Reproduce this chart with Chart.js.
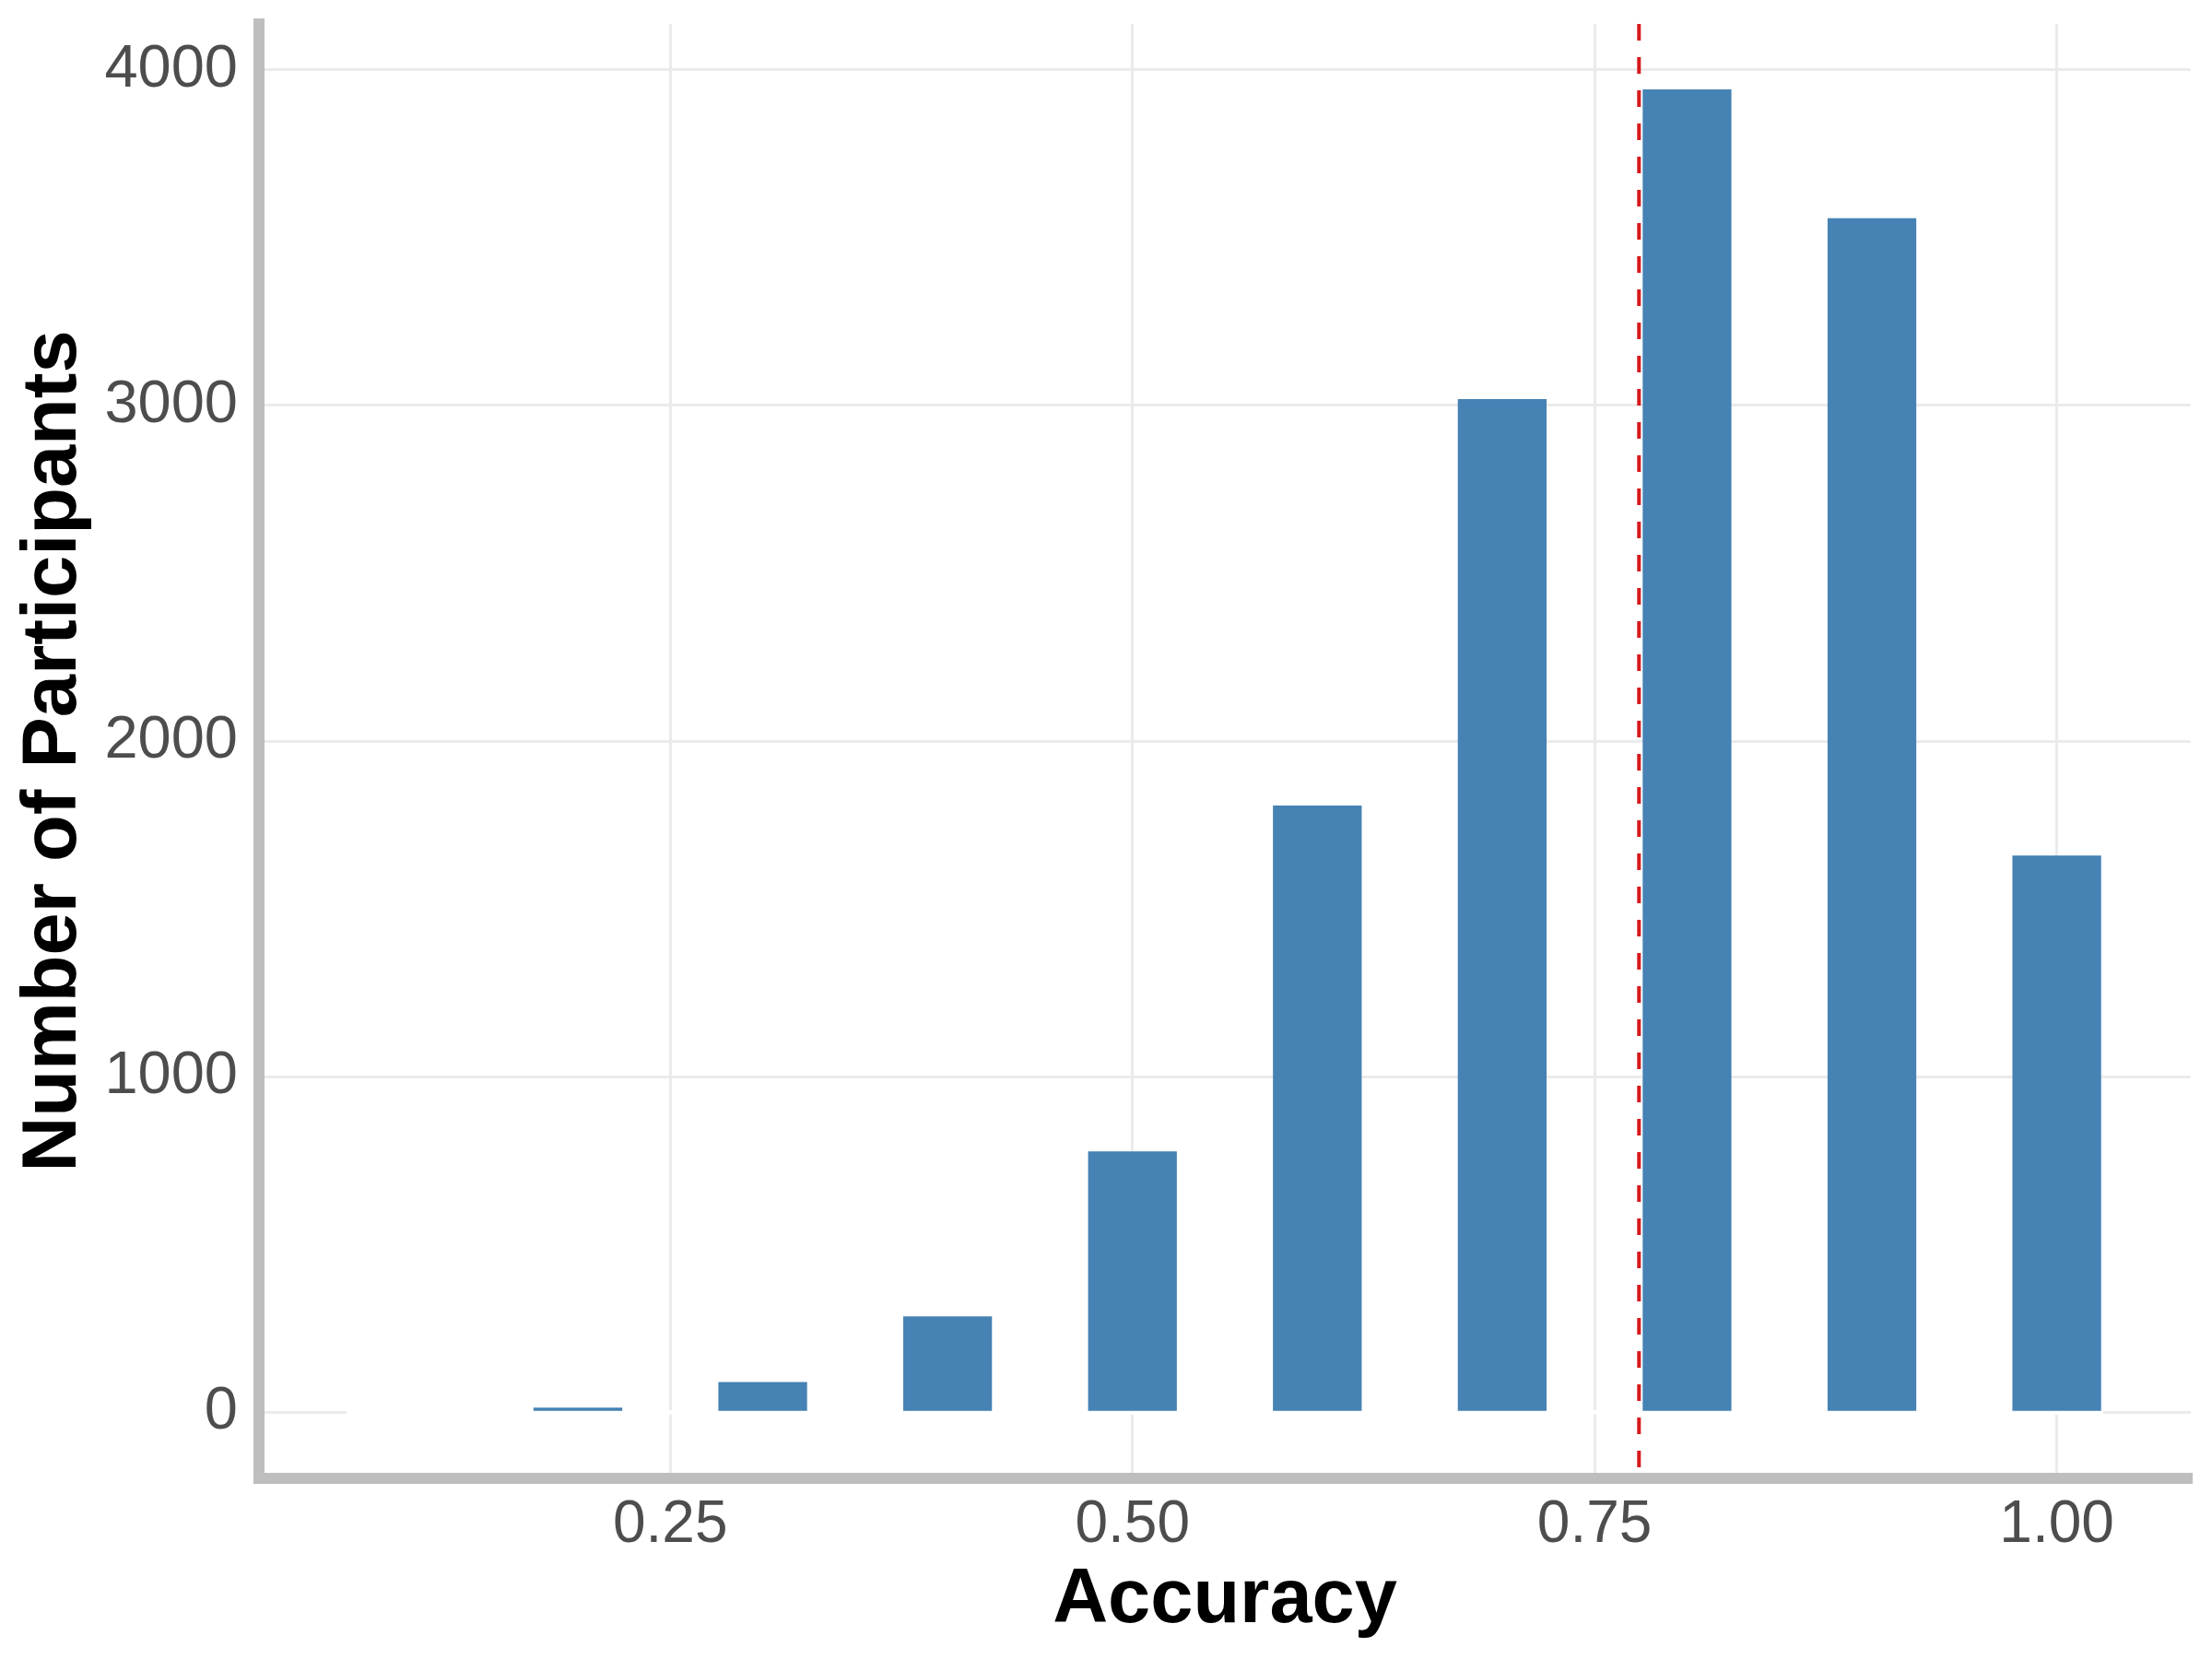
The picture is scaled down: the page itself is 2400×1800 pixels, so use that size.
<!DOCTYPE html>
<html>
<head>
<meta charset="utf-8">
<title>Accuracy histogram</title>
<script src="https://cdn.jsdelivr.net/npm/chart.js@4.4.1/dist/chart.umd.min.js"></script>
<style>
  html, body { margin: 0; padding: 0; background: #ffffff; }
  #chart { display: block; }
</style>
</head>
<body>
<canvas id="chart" width="2400" height="1800"></canvas>
<script>
// histogram bins (centre of each bin) and counts
const binCenters = [0.1, 0.2, 0.3, 0.4, 0.5, 0.6, 0.7, 0.8, 0.9, 1.0];
const participantCounts = [0, 14, 90, 286, 777, 1808, 3019, 3942, 3558, 1659];
const binWidth = 0.05;
const meanAccuracy = 0.774;

const xTicks = [0.25, 0.5, 0.75, 1.0];
const yTicks = [0, 1000, 2000, 3000, 4000];
const xLimits = [0.0275, 1.0725];
const yLimits = [-197, 4137];

const FONT = "'Liberation Sans', Arial, Helvetica, sans-serif";

const bars = binCenters.map((x, i) => ({ x, y: participantCounts[i] }));

// empty-bin outlines along y = 0 (white, like the ggplot histogram)
const baseline = [
  { x: binCenters[0] - binWidth / 2, y: 0 },
  { x: binCenters[binCenters.length - 1] + binWidth / 2, y: 0 }
];

const meanLine = [
  { x: meanAccuracy, y: yLimits[1] },
  { x: meanAccuracy, y: yLimits[0] }
];

const ctx = document.getElementById('chart');

new Chart(ctx, {
  type: 'bar',
  data: {
    datasets: [
      {
        type: 'line',
        data: baseline,
        borderColor: '#ffffff',
        borderWidth: 5,
        pointRadius: 0,
        tension: 0,
        order: 3
      },
      {
        type: 'bar',
        data: bars,
        backgroundColor: '#4682b4',
        borderWidth: 0,
        barPercentage: 0.48,
        categoryPercentage: 1,
        order: 2
      },
      {
        type: 'line',
        data: meanLine,
        borderColor: '#d7191c',
        borderWidth: 4,
        borderDash: [18, 18],
        borderCapStyle: 'butt',
        pointRadius: 0,
        tension: 0,
        order: 1
      }
    ]
  },
  options: {
    responsive: false,
    animation: false,
    devicePixelRatio: 1,
    layout: {
      padding: { left: 0, right: 23, top: 26, bottom: 0 }
    },
    plugins: {
      legend: { display: false },
      tooltip: { enabled: false }
    },
    scales: {
      x: {
        type: 'linear',
        min: xLimits[0],
        max: xLimits[1],
        offset: false,
        afterBuildTicks: (scale) => {
          scale.ticks = xTicks.map(v => ({ value: v }));
        },
        afterFit: (scale) => {
          scale.height = 196;
          scale.paddingLeft = 0;
          scale.paddingRight = 0;
        },
        grid: {
          offset: false,
          color: '#ebebeb',
          lineWidth: 3,
          drawTicks: false
        },
        border: {
          display: true,
          color: '#bebebe',
          width: 12
        },
        ticks: {
          padding: 13,
          color: '#4d4d4d',
          maxRotation: 0,
          autoSkip: false,
          font: { family: FONT, size: 64, lineHeight: 1.2 },
          callback: (value) => Number(value).toFixed(2)
        },
        title: {
          display: true,
          text: 'Accuracy',
          color: '#000000',
          padding: { top: 0, bottom: 13 },
          font: { family: FONT, size: 83, weight: 'bold', lineHeight: 1.2 }
        }
      },
      y: {
        type: 'linear',
        min: yLimits[0],
        max: yLimits[1],
        afterBuildTicks: (scale) => {
          scale.ticks = yTicks.map(v => ({ value: v }));
        },
        afterFit: (scale) => {
          scale.width = 281;
          scale.paddingTop = 0;
          scale.paddingBottom = 0;
        },
        grid: {
          color: '#ebebeb',
          lineWidth: 3,
          drawTicks: false
        },
        border: {
          display: true,
          color: '#bebebe',
          width: 12
        },
        ticks: {
          padding: 23,
          color: '#4d4d4d',
          autoSkip: false,
          font: { family: FONT, size: 65, lineHeight: 1.2 },
          callback: (value) => String(value)
        },
        title: {
          display: true,
          text: 'Number of Participants',
          color: '#000000',
          padding: { top: 9, bottom: 0 },
          font: { family: FONT, size: 83, weight: 'bold', lineHeight: 1.2 }
        }
      }
    }
  }
});
</script>
</body>
</html>
